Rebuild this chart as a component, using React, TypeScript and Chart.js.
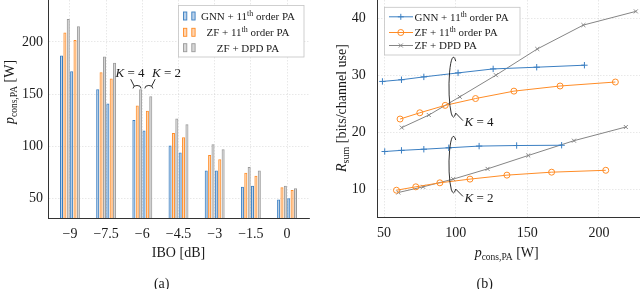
import React, { useEffect, useRef } from 'react';
import { Chart, registerables } from 'chart.js';

Chart.register(...registerables);

const SERIF = '"Liberation Serif", "Times New Roman", serif';
const INK = '#1a1a1a';
const BLUE = '#3b7fc2';
const ORANGE = '#ff8c26';
const GRAY = '#858585';
const BLUE_FILL = 'rgba(59,127,194,0.35)';
const ORANGE_FILL = 'rgba(255,150,60,0.4)';
const GRAY_FILL = 'rgba(150,150,150,0.38)';

// ---------- (a) bar chart data ----------
const iboValues = [-9, -7.5, -6, -4.5, -3, -1.5, 0];
const iboTickLabels = ['−9', '−7.5', '−6', '−4.5', '−3', '−1.5', '0'];
const powerTicks = [50, 100, 150, 200];
const powerTickLabels = ['50', '100', '150', '200'];
const gnnK4Power = [187, 154.5, 125, 100.5, 76.5, 61, 48.8];
const zfK4Power = [209, 171, 139, 112.5, 91.5, 74.5, 60.5];
const dpdK4Power = [222, 186, 154.5, 126.5, 101.8, 80, 62];
const gnnK2Power = [172, 141, 115, 94, 76.5, 62, 50];
const zfK2Power = [202, 165, 134, 108.5, 87.5, 71.5, 58];
const dpdK2Power = [215, 180, 148, 121, 97, 76.5, 59.5];

// ---------- (b) line chart data ----------
const pconsTicks = [50, 100, 150, 200];
const pconsTickLabels = ['50', '100', '150', '200'];
const rateTicks = [10, 20, 30, 40];
const rateTickLabels = ['10', '20', '30', '40'];
const gnnK4Pcons = [48.9, 62.2, 77.8, 101.7, 126.2, 156.6, 189.9];
const gnnK4Rate = [28.9, 29.2, 29.7, 30.4, 31.1, 31.4, 31.75];
const zfK4Pcons = [61.2, 75, 92.7, 113.9, 140.7, 172.9, 211.5];
const zfK4Rate = [22.3, 23.4, 24.7, 25.9, 27.2, 28.1, 28.8];
const dpdK4Pcons = [62.4, 81.3, 102.9, 128.1, 157, 189.2, 225.8];
const dpdK4Rate = [20.8, 23, 26.2, 30, 34.6, 38.8, 41.2];
const gnnK2Pcons = [50.5, 62.2, 77.8, 95.2, 116.4, 142.6, 174];
const gnnK2Rate = [16.6, 16.8, 17.0, 17.25, 17.55, 17.65, 17.7];
const zfK2Pcons = [58.7, 72.2, 89, 110, 135.8, 167, 204.8];
const zfK2Rate = [9.8, 10.4, 11.1, 11.75, 12.45, 12.97, 13.3];
const dpdK2Pcons = [60, 77.3, 98.3, 122.3, 150.7, 182.6, 218.8];
const dpdK2Rate = [9.4, 10.4, 11.75, 13.55, 15.9, 18.5, 20.9];

// annotation anchors (data units)
const barKLabels = ['4', '2'];
const barKAnchorX = [-6.22, -5.73];
const barKAnchorY = 155.4;
const rateKLabels = ['4', '2'];
const rateKCenterX = 98.5;
const rateKCenterY = [27.9, 14.3];

type Seg = { t: string; size: number; italic?: boolean; dy?: number };

const segFont = (s: Seg) => `${s.italic ? 'italic ' : ''}${s.size}px ${SERIF}`;

function drawRich(ctx: CanvasRenderingContext2D, segs: Seg[], x: number, y: number, align: 'left' | 'center') {
  let w = 0;
  for (const s of segs) {
    ctx.font = segFont(s);
    w += ctx.measureText(s.t).width;
  }
  let cx = align === 'center' ? x - w / 2 : x;
  ctx.textAlign = 'left';
  ctx.textBaseline = 'alphabetic';
  for (const s of segs) {
    ctx.font = segFont(s);
    ctx.fillText(s.t, cx, y + (s.dy || 0));
    cx += ctx.measureText(s.t).width;
  }
}

const legendRows: Seg[][] = [
  [{ t: 'GNN + 11', size: 11 }, { t: 'th', size: 8, dy: -4 }, { t: ' order PA', size: 11 }],
  [{ t: 'ZF + 11', size: 11 }, { t: 'th', size: 8, dy: -4 }, { t: ' order PA', size: 11 }],
  [{ t: 'ZF + DPD PA', size: 11 }],
];

const pconsTitle: Seg[] = [
  { t: 'p', size: 14, italic: true },
  { t: 'cons,PA', size: 9.5, dy: 3 },
  { t: ' [W]', size: 14 },
];
const rateTitle: Seg[] = [
  { t: 'R', size: 14, italic: true },
  { t: 'sum', size: 10, dy: 3 },
  { t: ' [bits/channel use]', size: 14 },
];

function kLabel(n: string): Seg[] {
  return [{ t: 'K', size: 13, italic: true }, { t: ' = ' + n, size: 13 }];
}

function axis(min: number, max: number, ticks: number[], labels: string[], horizontal: boolean, fit: number, pad: number) {
  return {
    type: 'linear' as const,
    min,
    max,
    offset: false,
    afterBuildTicks: (s: any) => {
      s.ticks = ticks.map((v) => ({ value: v }));
    },
    afterFit: (s: any) => {
      if (horizontal) s.height = fit;
      else s.width = fit;
      s.paddingTop = 0;
      s.paddingBottom = 0;
      s.paddingLeft = 0;
      s.paddingRight = 0;
    },
    ticks: {
      autoSkip: false,
      maxRotation: 0,
      padding: pad,
      color: INK,
      font: { family: SERIF, size: 14 },
      callback: (_v: any, i: number) => labels[i],
    },
    grid: { color: 'rgba(0,0,0,0.13)', lineWidth: 0.7, drawTicks: false, offset: false },
    border: { display: true, color: '#333', width: 1, dash: [1.5, 1.5] },
  };
}

function drawMarker(ctx: CanvasRenderingContext2D, kind: string, x: number, y: number, color: string) {
  ctx.save();
  ctx.strokeStyle = color;
  ctx.lineWidth = 1;
  ctx.beginPath();
  if (kind === 'plus') {
    ctx.moveTo(x - 3, y); ctx.lineTo(x + 3, y);
    ctx.moveTo(x, y - 3); ctx.lineTo(x, y + 3);
  } else if (kind === 'circle') {
    ctx.arc(x, y, 3, 0, Math.PI * 2);
  } else {
    ctx.moveTo(x - 2, y - 2); ctx.lineTo(x + 2, y + 2);
    ctx.moveTo(x + 2, y - 2); ctx.lineTo(x - 2, y + 2);
  }
  ctx.stroke();
  ctx.restore();
}

const leftExtras = {
  id: 'leftExtras',
  afterDraw(chart: any) {
    const ctx: CanvasRenderingContext2D = chart.ctx;
    const area = chart.chartArea;
    const xs = chart.scales.x;
    const ys = chart.scales.y;
    ctx.save();
    ctx.fillStyle = INK;
    ctx.strokeStyle = INK;
    // axis titles
    drawRich(ctx, [{ t: 'IBO [dB]', size: 14 }], (area.left + area.right) / 2, 256.5, 'center');
    ctx.save();
    ctx.translate(9, 92);
    ctx.rotate(-Math.PI / 2);
    drawRich(ctx, pconsTitle, 0, 4.6, 'center');
    ctx.restore();
    drawRich(ctx, [{ t: '(a)', size: 14 }], 161.7, 287.5, 'center');

    // K annotations
    ctx.lineWidth = 0.9;
    for (let i = 0; i < barKLabels.length; i++) {
      const cx = xs.getPixelForValue(barKAnchorX[i]);
      const cy = ys.getPixelForValue(barKAnchorY);
      const side = i === 0 ? -1 : 1;
      ctx.beginPath();
      ctx.ellipse(cx, cy, 4, 3, 0, Math.PI, 2 * Math.PI);
      ctx.stroke();
      ctx.beginPath();
      ctx.moveTo(cx + side * 6.3, cy - 9.2);
      ctx.lineTo(cx + side * 2.8, cy - 2.2);
      ctx.stroke();
      const ldx = i === 0 ? -7 : 17.7;
      drawRich(ctx, kLabel(barKLabels[i]), cx + ldx, cy - 11.3, 'center');
    }

    // legend
    const bx = area.right - 130.5;
    const by = 5.5;
    ctx.fillStyle = '#fff';
    ctx.fillRect(bx, by, 125.5, 51.5);
    ctx.strokeStyle = '#c4c4c4';
    ctx.lineWidth = 0.8;
    ctx.strokeRect(bx, by, 125.5, 51.5);
    const fills = [BLUE_FILL, ORANGE_FILL, GRAY_FILL];
    const lines = [BLUE, ORANGE, '#9a9a9a'];
    const rowY = [16, 32.3, 47.7];
    for (let r = 0; r < 3; r++) {
      for (const ix of [bx + 5, bx + 13.3]) {
        ctx.fillStyle = fills[r];
        ctx.fillRect(ix, rowY[r] - 4, 3.3, 8);
        ctx.strokeStyle = lines[r];
        ctx.lineWidth = 0.9;
        ctx.strokeRect(ix, rowY[r] - 4, 3.3, 8);
      }
      ctx.fillStyle = INK;
      drawRich(ctx, legendRows[r], bx + 69.5, rowY[r] + 3.8, 'center');
    }
    ctx.restore();
  },
};

const rightExtras = {
  id: 'rightExtras',
  afterDraw(chart: any) {
    const ctx: CanvasRenderingContext2D = chart.ctx;
    const area = chart.chartArea;
    const xs = chart.scales.x;
    const ys = chart.scales.y;
    ctx.save();
    ctx.fillStyle = INK;
    ctx.strokeStyle = INK;
    drawRich(ctx, pconsTitle, 186.7, 256.5, 'center');
    ctx.save();
    ctx.translate(21, 108);
    ctx.rotate(-Math.PI / 2);
    drawRich(ctx, rateTitle, 0, 4.6, 'center');
    ctx.restore();
    drawRich(ctx, [{ t: '(b)', size: 14 }], 164.7, 287.5, 'center');

    // K ellipses
    const radii = [30, 28.3];
    ctx.lineWidth = 0.9;
    for (let i = 0; i < rateKLabels.length; i++) {
      const cx = xs.getPixelForValue(rateKCenterX);
      const cy = ys.getPixelForValue(rateKCenterY[i]);
      const ry = radii[i];
      ctx.beginPath();
      ctx.ellipse(cx, cy, 4.5, ry, 0, -Math.PI / 3, Math.PI / 3, true);
      ctx.stroke();
      const px = cx + 4.5 * Math.cos(Math.PI / 3);
      const py = cy + ry * Math.sin(Math.PI / 3);
      ctx.beginPath();
      ctx.moveTo(px, py);
      ctx.lineTo(cx + 9.5, cy + ry + 3.5);
      ctx.stroke();
      drawRich(ctx, kLabel(rateKLabels[i]), cx + 11, cy + ry + 9, 'left');
    }

    // legend
    const bx = area.left + 6.8;
    const by = 7.3;
    ctx.fillStyle = '#fff';
    ctx.fillRect(bx, by, 135.5, 47.7);
    ctx.strokeStyle = '#c4c4c4';
    ctx.lineWidth = 0.8;
    ctx.strokeRect(bx, by, 135.5, 47.7);
    const cols = [BLUE, ORANGE, GRAY];
    const kinds = ['plus', 'circle', 'x'];
    const rowY = [16.8, 32.5, 45.5];
    for (let r = 0; r < 3; r++) {
      ctx.strokeStyle = cols[r];
      ctx.lineWidth = 1;
      ctx.beginPath();
      ctx.moveTo(bx + 4.5, rowY[r]);
      ctx.lineTo(bx + 28.5, rowY[r]);
      ctx.stroke();
      drawMarker(ctx, kinds[r], bx + 16.3, rowY[r], cols[r]);
      ctx.fillStyle = INK;
      drawRich(ctx, legendRows[r], bx + 30, rowY[r] + 3.8, 'left');
    }
    ctx.restore();
  },
};

function barSet(values: number[], fill: string, line: string) {
  return {
    data: iboValues.map((x, i) => ({ x, y: values[i] })),
    backgroundColor: fill,
    borderColor: line,
    borderWidth: 1,
    categoryPercentage: 0.56,
    barPercentage: 0.9,
  };
}

function lineSet(xs: number[], ys: number[], color: string, kind: 'plus' | 'circle' | 'x') {
  const style =
    kind === 'plus'
      ? { pointStyle: 'cross', pointRadius: 3.2 }
      : kind === 'circle'
      ? { pointStyle: 'circle', pointRadius: 3 }
      : { pointStyle: 'crossRot', pointRadius: 2.8 };
  return {
    data: xs.map((x, i) => ({ x, y: ys[i] })),
    borderColor: color,
    borderWidth: 1,
    tension: 0,
    fill: false,
    pointBorderColor: color,
    pointBackgroundColor: 'rgba(0,0,0,0)',
    pointBorderWidth: 1,
    ...style,
  };
}

export default function App() {
  const leftRef = useRef<HTMLCanvasElement>(null);
  const rightRef = useRef<HTMLCanvasElement>(null);

  useEffect(() => {
    const left = new Chart(leftRef.current!, {
      type: 'bar',
      data: {
        datasets: [
          barSet(gnnK4Power, BLUE_FILL, BLUE),
          barSet(zfK4Power, ORANGE_FILL, ORANGE),
          barSet(dpdK4Power, GRAY_FILL, '#9a9a9a'),
          barSet(gnnK2Power, BLUE_FILL, BLUE),
          barSet(zfK2Power, ORANGE_FILL, ORANGE),
          barSet(dpdK2Power, GRAY_FILL, '#9a9a9a'),
        ] as any,
      },
      options: {
        animation: false,
        responsive: false,
        devicePixelRatio: 1,
        layout: { autoPadding: false, padding: { left: 0, right: 11, top: 0, bottom: 0 } },
        plugins: { legend: { display: false }, tooltip: { enabled: false } },
        scales: {
          x: axis(-9.91, 0.91, iboValues, iboTickLabels, true, 71, 8) as any,
          y: axis(31, 240.3, powerTicks, powerTickLabels, false, 48, 5) as any,
        },
      },
      plugins: [leftExtras],
    });

    const right = new Chart(rightRef.current!, {
      type: 'line',
      data: {
        datasets: [
          lineSet(gnnK4Pcons, gnnK4Rate, BLUE, 'plus'),
          lineSet(zfK4Pcons, zfK4Rate, ORANGE, 'circle'),
          lineSet(dpdK4Pcons, dpdK4Rate, GRAY, 'x'),
          lineSet(gnnK2Pcons, gnnK2Rate, BLUE, 'plus'),
          lineSet(zfK2Pcons, zfK2Rate, ORANGE, 'circle'),
          lineSet(dpdK2Pcons, dpdK2Rate, GRAY, 'x'),
        ] as any,
      },
      options: {
        animation: false,
        responsive: false,
        devicePixelRatio: 1,
        layout: { autoPadding: false, padding: { left: 0, right: 0, top: 0, bottom: 0 } },
        plugins: { legend: { display: false }, tooltip: { enabled: false } },
        scales: {
          x: axis(45.6, 228.7, pconsTicks, pconsTickLabels, true, 72, 8) as any,
          y: axis(5.1, 43.2, rateTicks, rateTickLabels, false, 57.7, 12) as any,
        },
      },
      plugins: [rightExtras],
    });

    return () => {
      left.destroy();
      right.destroy();
    };
  }, []);

  return (
    <div style={{ position: 'absolute', left: 0, top: 0, width: 640, height: 289, background: '#fff' }}>
      <canvas
        ref={leftRef}
        width={320}
        height={289}
        style={{ position: 'absolute', left: 0, top: 0, width: 320, height: 289 }}
      />
      <canvas
        ref={rightRef}
        width={320}
        height={289}
        style={{ position: 'absolute', left: 320, top: 0, width: 320, height: 289 }}
      />
    </div>
  );
}
